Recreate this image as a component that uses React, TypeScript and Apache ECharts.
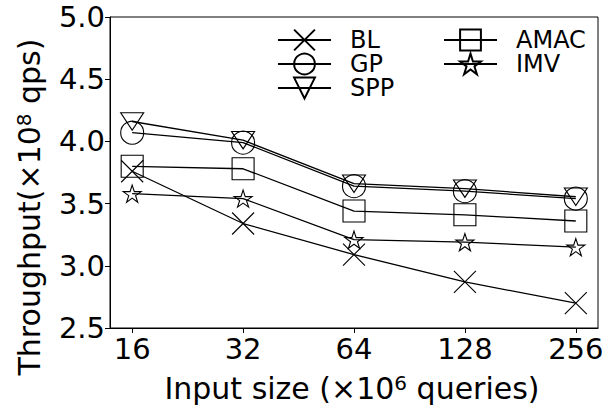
import React, { useEffect, useRef } from "react";
import * as echarts from "echarts";

const categories = ["16", "32", "64", "128", "256"];
const blValues = [3.76, 3.34, 3.09, 2.87, 2.70];
const gpValues = [4.07, 3.99, 3.64, 3.60, 3.54];
const sppValues = [4.16, 4.01, 3.66, 3.62, 3.555];
const amacValues = [3.80, 3.78, 3.44, 3.41, 3.36];
const imvValues = [3.58, 3.54, 3.21, 3.19, 3.15];
const yTicks = [2.5, 3.0, 3.5, 4.0, 4.5, 5.0];

const FONT = "DejaVu Sans";

const SYM_X = "path://M0,0L10,10M10,0L0,10";
const SYM_TRI = "path://M0,0L23,0L11.5,20Z";
const SYM_STAR =
  "path://M50,0L61.23,34.55L97.55,34.55L68.17,55.9L79.39,90.45L50,69.1L20.61,90.45L31.83,55.9L2.45,34.55L38.77,34.55Z";

const toPairs = (vals: number[]) => vals.map((v, i) => [i, v]);

function makeSeries(name: string, vals: number[], symbol: string, size: number | number[]) {
  return {
    name,
    type: "line",
    data: toPairs(vals),
    symbol,
    symbolSize: size,
    symbolKeepAspect: true,
    showAllSymbol: true,
    lineStyle: { color: "#000", width: 1.3 },
    itemStyle: { color: "rgba(0,0,0,0)", borderColor: "#000", borderWidth: 1.1 },
    emphasis: { disabled: true },
    z: 2,
  };
}

export default function App() {
  const ref = useRef<HTMLDivElement>(null);
  useEffect(() => {
    if (!ref.current) return;
    const chart = echarts.init(ref.current, undefined, { renderer: "svg" });
    const legendCommon = {
      orient: "vertical",
      top: 28,
      padding: 0,
      itemWidth: 53,
      itemHeight: 26,
      itemGap: 0,
      textStyle: { fontFamily: FONT, fontSize: 24, color: "#000", padding: [0, 0, 0, 14] },
      selectedMode: false,
    };
    chart.setOption({
      animation: false,
      backgroundColor: "#fff",
      grid: {
        left: 110,
        right: 10,
        top: 17,
        bottom: 80,
        show: true,
        borderColor: "#000",
        borderWidth: 1,
        backgroundColor: "transparent",
      },
      legend: [
        { ...legendCommon, left: 277, data: ["BL", "GP", "SPP"] },
        { ...legendCommon, left: 443, data: ["AMAC", "IMV"] },
      ],
      xAxis: {
        type: "value",
        min: -0.2,
        max: 4.2,
        axisLine: { show: true, onZero: false, lineStyle: { color: "#000", width: 1 } },
        axisTick: {
          show: true,
          length: 5,
          lineStyle: { color: "#000" },
          customValues: [0, 1, 2, 3, 4],
        },
        axisLabel: {
          customValues: [0, 1, 2, 3, 4],
          formatter: (v: number) => categories[Math.round(v)] ?? "",
          fontFamily: FONT,
          fontSize: 29,
          color: "#000",
          margin: 6,
        },
        splitLine: { show: false },
      },
      yAxis: {
        type: "value",
        min: 2.5,
        max: 5.0,
        interval: 0.5,
        axisLine: { show: true, onZero: false, lineStyle: { color: "#000", width: 1 } },
        axisTick: { show: true, length: 5, lineStyle: { color: "#000" } },
        axisLabel: {
          customValues: yTicks,
          formatter: (v: number) => v.toFixed(1),
          fontFamily: FONT,
          fontSize: 29,
          color: "#000",
          margin: 5,
        },
        splitLine: { show: false },
      },
      graphic: [
        {
          type: "text",
          x: 352,
          y: 388,
          style: {
            text: "Input size (×10{sup|6} queries)",
            align: "center",
            verticalAlign: "middle",
            fontFamily: FONT,
            fontSize: 30,
            fill: "#000",
            rich: {
              sup: { fontFamily: FONT, fontSize: 20, verticalAlign: "top", fill: "#000" },
            },
          },
        },
        {
          type: "text",
          x: 29,
          y: 207,
          rotation: Math.PI / 2,
          style: {
            text: "Throughput(×10{sup|8} qps)",
            align: "center",
            verticalAlign: "middle",
            fontFamily: FONT,
            fontSize: 30,
            fill: "#000",
            rich: {
              sup: { fontFamily: FONT, fontSize: 20, verticalAlign: "top", fill: "#000" },
            },
          },
        },
      ],
      series: [
        makeSeries("BL", blValues, SYM_X, 22),
        makeSeries("GP", gpValues, "circle", 23),
        makeSeries("SPP", sppValues, SYM_TRI, [23, 20]),
        makeSeries("AMAC", amacValues, "rect", 22),
        makeSeries("IMV", imvValues, SYM_STAR, 18),
      ],
    });
    return () => chart.dispose();
  }, []);
  return (
    <div
      ref={ref}
      style={{ position: "fixed", left: 0, top: 0, width: 608, height: 408 }}
    />
  );
}
